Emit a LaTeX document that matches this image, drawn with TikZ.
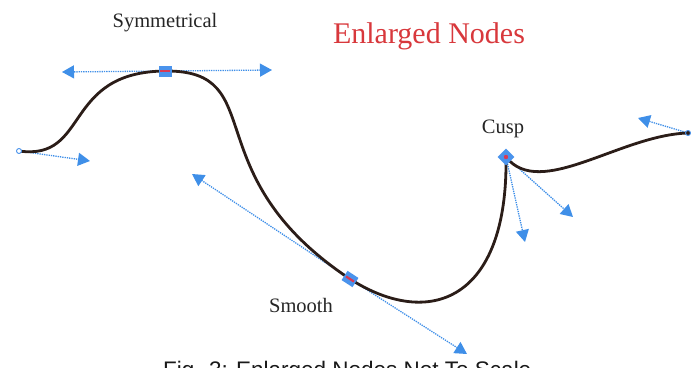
\documentclass[tikz,border=0pt]{standalone}
\usepackage{fontspec}
\setmainfont{Liberation Serif}
\newfontfamily\captionfont{Liberation Sans}
\usetikzlibrary{arrows.meta,shapes.geometric}
\definecolor{handleBlue}{HTML}{3F8FE8}
\definecolor{nodeBlue}{HTML}{4A93EC}
\definecolor{curveDark}{HTML}{2B1D18}
\definecolor{titleRed}{HTML}{D8383C}
\definecolor{markRed}{HTML}{D83A55}

\begin{document}
\begin{tikzpicture}[x=1pt, y=-1pt,
    curveStyle/.style={line width=2.8pt, draw=curveDark, line cap=round},
    handleStyle/.style={-{Triangle[length=12pt, width=13pt]}, densely dotted, line width=1.3pt, draw=handleBlue},
    endNode/.style={circle, draw=nodeBlue, fill=white, inner sep=0pt, minimum size=5pt, line width=0.9pt},
    bigNode/.style={rectangle, fill=nodeBlue, inner sep=0pt, minimum width=13pt, minimum height=11pt},
    markLine/.style={draw=markRed, line width=2.2pt, shorten <=2pt, shorten >=2pt},
    nodeLabel/.style={font=\fontsize{20.5}{23}\selectfont, text=black!85, inner sep=0pt, anchor=base}
]
    \useasboundingbox (0,0) rectangle (699,367);
    \clip (0,0) rectangle (699,367);

    % points on the path
    \coordinate (p0) at (19,151);
    \coordinate (p1) at (165,71);
    \coordinate (p2) at (350,279);
    \coordinate (p3) at (506,157);
    \coordinate (p4) at (688,133);

    % handle ends
    \coordinate (startH) at (90,161);
    \coordinate (symL) at (62,72);
    \coordinate (symR) at (272,70);
    \coordinate (smoothL) at (192,174);
    \coordinate (smoothR) at (467,354);
    \coordinate (cuspL) at (525,242);
    \coordinate (cuspR) at (573,217);
    \coordinate (endH) at (638,118);

    \draw[handleStyle] (p0) -- (startH);
    \draw[handleStyle] (p1) -- (symL);
    \draw[handleStyle] (p1) -- (symR);
    \draw[handleStyle] (p2) -- (smoothL);
    \draw[handleStyle] (p2) -- (smoothR);
    \draw[handleStyle] (p3) -- (cuspL);
    \draw[handleStyle] (p3) -- (cuspR);
    \draw[handleStyle] (p4) -- (endH);

    \draw[curveStyle] (p0) .. controls (90,161) and (62,72) .. (p1)
        .. controls (272,70) and (192,174) .. (p2)
        .. controls (430,330) and (508,300) .. (p3)
        .. controls (540,200) and (620,135) .. (p4);

    \node[endNode] (startNode) at (p0) {};
    \node[endNode, fill=curveDark] (endNode) at (p4) {};
    \node[bigNode] (symNode) at (p1) {};
    \node[bigNode, rotate=-33] (smoothNode) at (p2) {};
    \node[bigNode, minimum width=12pt, minimum height=12pt, rotate=45] (cuspNode) at (p3) {};
    \draw[markLine] (symNode.west) -- (symNode.east);
    \draw[markLine] (smoothNode.west) -- (smoothNode.east);
    \fill[markRed] (cuspNode.center) circle (2.2pt);

    \node[nodeLabel] (symLabel) at (165,27) {Symmetrical};
    \node[nodeLabel] (cuspLabel) at (503,133) {Cusp};
    \node[nodeLabel] (smoothLabel) at (301,312) {Smooth};
    \node[nodeLabel, font=\fontsize{30}{34}\selectfont, text=titleRed] (title) at (429,43) {Enlarged Nodes};

    % caption runs off the lower edge, as in the source
    \node[inner sep=0pt, anchor=base west, font=\captionfont\fontsize{22.5}{26}\selectfont, text=black!90] (caption) at (163,377) {Fig. 3: Enlarged Nodes Not To Scale};
\end{tikzpicture}
\end{document}
